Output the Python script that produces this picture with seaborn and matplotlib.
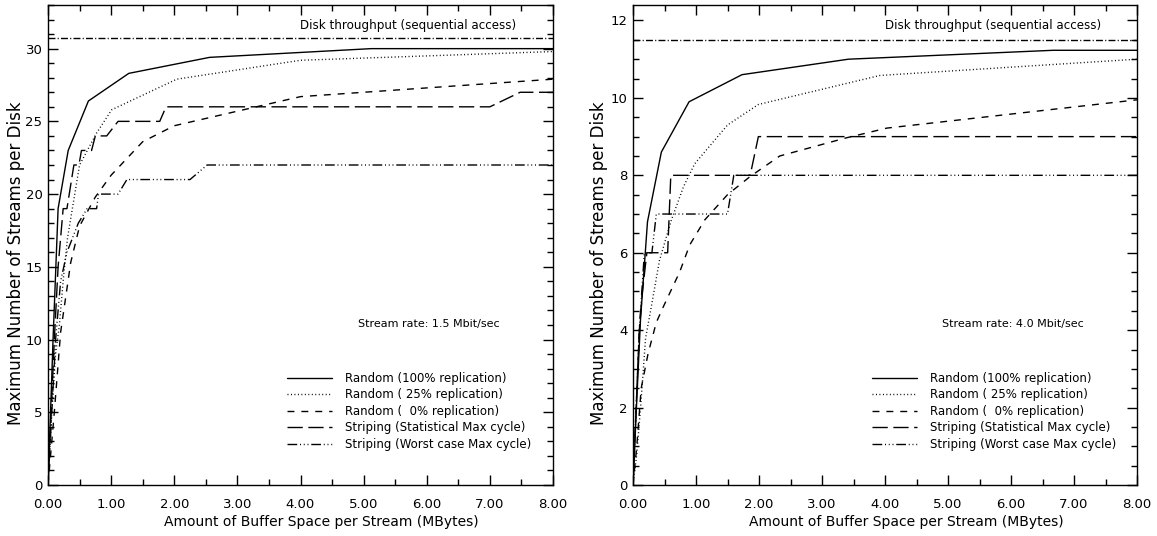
import matplotlib
matplotlib.use("Agg")
import matplotlib.pyplot as plt
from matplotlib.ticker import MultipleLocator, FormatStrFormatter
import seaborn as sns
import pandas as pd

# ---------------- data: stream rate 1.5 Mbit/sec ----------------
x_r100_a = [0, 0.04, 0.08, 0.16, 0.32, 0.64, 1.28, 2.56, 5.12, 8.0]
y_r100_a = [0, 5, 10, 19, 23, 26.4, 28.3, 29.4, 30.0, 30.0]
x_r25_a = [0, 0.06, 0.12, 0.18, 0.25, 0.31, 0.5, 0.77, 1.01, 2.04, 4.0, 8.0]
y_r25_a = [0, 5, 9, 11, 14.5, 17, 22, 24.2, 25.8, 27.9, 29.2, 29.8]
x_r0_a = [0, 0.1, 0.2, 0.36, 0.5, 0.75, 1.0, 1.5, 2.0, 4.0, 8.0]
y_r0_a = [0, 5, 10.5, 15.3, 17.8, 19.8, 21.3, 23.6, 24.7, 26.7, 27.9]
x_stat_a = [0, 0.05, 0.1, 0.16, 0.24, 0.3, 0.41, 0.49, 0.53, 0.69, 0.75, 0.93,
            1.11, 1.77, 1.87, 7.0, 7.48, 8.0]
y_stat_a = [0, 5, 10, 15, 19, 19, 22, 22, 23, 23, 24, 24, 25, 25, 26, 26, 27, 27]
x_worst_a = [0, 0.06, 0.12, 0.2, 0.3, 0.48, 0.62, 0.77, 0.8, 1.11, 1.25, 2.25, 2.52, 8.0]
y_worst_a = [0, 5, 10, 14, 16, 18, 19, 19, 20, 20, 21, 21, 22, 22]
disk_a = 30.7
ymax_a = 33.0

# ---------------- data: stream rate 4.0 Mbit/sec ----------------
x_r100_b = [0, 0.06, 0.12, 0.23, 0.45, 0.89, 1.73, 3.42, 6.67, 8.0]
y_r100_b = [0, 2.2, 4.3, 6.8, 8.6, 9.9, 10.6, 11.0, 11.23, 11.23]
x_r25_b = [0, 0.06, 0.12, 0.2, 0.29, 0.42, 0.61, 0.8, 0.98, 1.5, 1.99, 3.92, 8.0]
y_r25_b = [0, 0.8, 2.0, 3.8, 4.6, 5.8, 6.85, 7.7, 8.3, 9.3, 9.83, 10.58, 11.0]
x_r0_b = [0, 0.06, 0.13, 0.24, 0.37, 0.48, 0.74, 0.9, 1.14, 1.5, 1.86, 2.33, 2.6, 3.39, 4.03, 8.0]
y_r0_b = [0, 1.0, 2.5, 3.4, 4.2, 4.6, 5.5, 6.2, 6.85, 7.5, 7.97, 8.5, 8.62, 8.97, 9.22, 9.95]
x_stat_b = [0, 0.05, 0.1, 0.15, 0.22, 0.55, 0.6, 1.86, 1.99, 8.0]
y_stat_b = [0, 2, 4, 5, 6, 6, 8, 8, 9, 9]
x_worst_b = [0, 0.05, 0.1, 0.18, 0.3, 0.37, 1.5, 1.6, 8.0]
y_worst_b = [0, 2, 4, 6, 6, 7, 7, 8, 8]
disk_b = 11.5
ymax_b = 12.4

labels = ["Random (100% replication)",
          "Random ( 25% replication)",
          "Random (  0% replication)",
          "Striping (Statistical Max cycle)",
          "Striping (Worst case Max cycle)"]
rates = ["Stream rate: 1.5 Mbit/sec", "Stream rate: 4.0 Mbit/sec"]
xlabel = "Amount of Buffer Space per Stream (MBytes)"
ylabel = "Maximum Number of Streams per Disk"
disk_text = "Disk throughput (sequential access)"

styles = ["-", (0, (0.7, 1.8)), (0, (5, 5)), (0, (11, 4)),
          (0, (7, 2, 0.7, 2, 0.7, 2, 0.7, 2))]
disk_style = (0, (5, 1.6, 0.8, 1.6))

sns.set_theme(style="ticks")
plt.rcParams["font.family"] = ["DejaVu Sans"]
plt.rcParams["axes.linewidth"] = 1.0
plt.rcParams["text.color"] = "black"
plt.rcParams["axes.labelcolor"] = "black"
plt.rcParams["xtick.color"] = "black"
plt.rcParams["ytick.color"] = "black"
plt.rcParams["xtick.labelcolor"] = "black"
plt.rcParams["ytick.labelcolor"] = "black"

fig = plt.figure(figsize=(11.57, 5.36), dpi=100)
W, H = 1157, 536
ax1 = fig.add_axes([48 / W, 51 / H, 505 / W, 480 / H])
ax2 = fig.add_axes([633 / W, 51 / H, 504 / W, 480 / H])

panels = [
    (ax1, [(x_r100_a, y_r100_a), (x_r25_a, y_r25_a), (x_r0_a, y_r0_a),
           (x_stat_a, y_stat_a), (x_worst_a, y_worst_a)], disk_a, ymax_a, 5, 1, rates[0], -0.046),
    (ax2, [(x_r100_b, y_r100_b), (x_r25_b, y_r25_b), (x_r0_b, y_r0_b),
           (x_stat_b, y_stat_b), (x_worst_b, y_worst_b)], disk_b, ymax_b, 2, 0.5, rates[1], -0.050),
]

for ax, series, disk, ymax, ymaj, ymin, rate, ylx in panels:
    handles = []
    for (xs, ys), lab, ls in zip(series, labels, styles):
        df = pd.DataFrame({"x": xs, "y": ys})
        sns.lineplot(data=df, x="x", y="y", ax=ax, color="black", linewidth=1.0,
                     linestyle=ls, estimator=None, sort=False, label=lab, legend=False)
        handles.append(ax.lines[-1])
    ax.axhline(disk, color="black", linewidth=1.0, linestyle=disk_style)
    ax.set_xlim(0, 8)
    ax.set_ylim(0, ymax)
    ax.xaxis.set_major_locator(MultipleLocator(1))
    ax.xaxis.set_minor_locator(MultipleLocator(0.5))
    ax.xaxis.set_major_formatter(FormatStrFormatter("%.2f"))
    ax.yaxis.set_major_locator(MultipleLocator(ymaj))
    ax.yaxis.set_minor_locator(MultipleLocator(ymin))
    ax.tick_params(which="both", direction="in", top=True, right=True,
                   color="black", labelcolor="black", labelsize=9.5)
    ax.tick_params(axis="x", which="major", pad=9)
    ax.tick_params(axis="y", which="major", pad=4)
    ax.tick_params(which="major", length=7, width=1)
    ax.tick_params(which="minor", length=4, width=1)
    for s in ax.spines.values():
        s.set_color("black")
        s.set_linewidth(1.0)
    ax.set_xlabel(xlabel, fontsize=10, color="black")
    ax.set_ylabel(ylabel, fontsize=12, color="black")
    ax.xaxis.set_label_coords(0.542, -0.062)
    ax.yaxis.set_label_coords(ylx, 0.4625)
    ax.text(0.5, 0.958, disk_text, transform=ax.transAxes, fontsize=8.6,
            ha="left", va="center", color="black")
    ax.text(0.614, 0.335, rate, transform=ax.transAxes, fontsize=8.0,
            ha="left", va="center", color="black")
    leg = ax.legend(handles=handles, labels=labels, loc="upper left",
                    bbox_to_anchor=(0.455, 0.255), frameon=False, fontsize=8.5,
                    handlelength=3.8, handletextpad=1.1, labelspacing=0.29,
                    borderpad=0.3)
    for t in leg.get_texts():
        t.set_color("black")
    ax.set_facecolor("white")

fig.patch.set_facecolor("white")
fig.savefig("out.png", dpi=100)
